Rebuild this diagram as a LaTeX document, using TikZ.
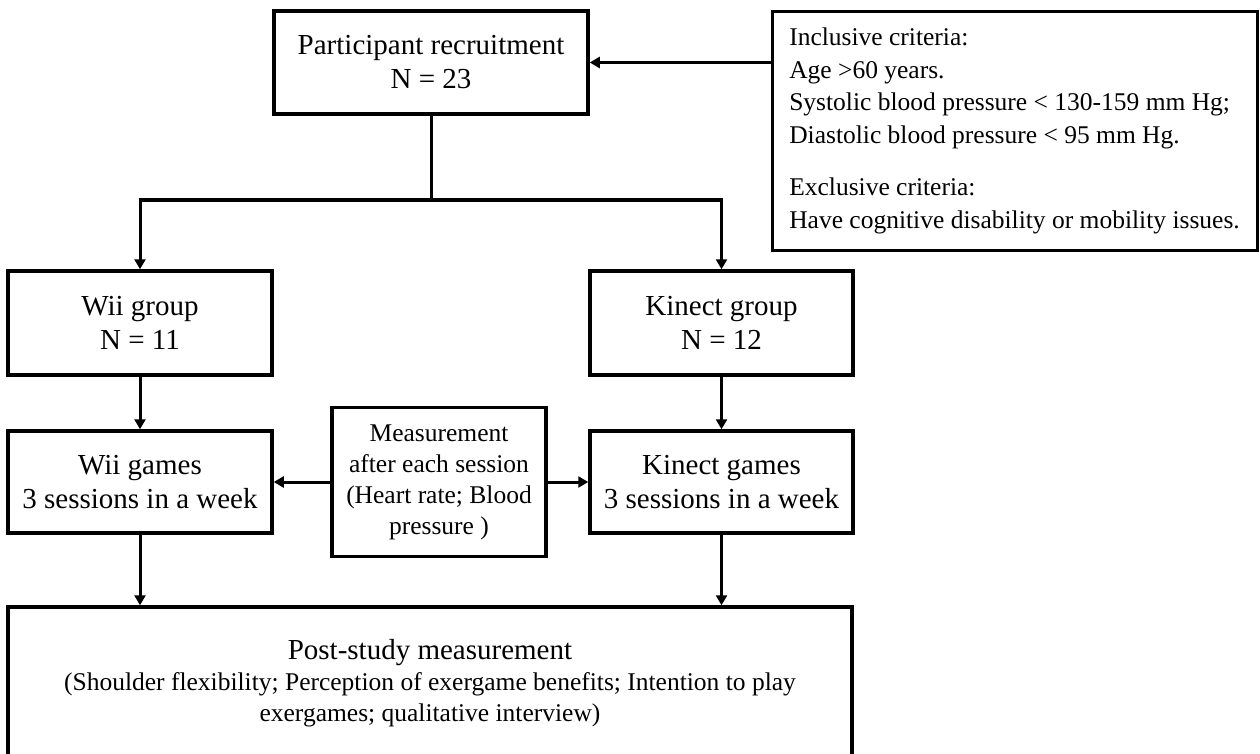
\documentclass[tikz,border=0pt]{standalone}
\usepackage{fontspec}
\setmainfont{Liberation Serif}
\usetikzlibrary{arrows.meta}
\begin{document}
\begin{tikzpicture}[x=1pt,y=-1pt,
  box/.style={draw,line width=3.5pt,align=center,inner sep=0pt,font=\fontsize{29}{34}\selectfont},
  smallbox/.style={box,line width=3pt,font=\fontsize{25.5}{31}\selectfont},
  line/.style={line width=3pt},
  arr/.style={line width=3pt,-{Triangle[length=10pt,width=11pt]}}]
\useasboundingbox (0,0) rectangle (1260,754);
\node [box,minimum width=314pt,minimum height=103pt] (recruit) at (431,62.5) {Participant recruitment\\N = 23};
\node [smallbox,align=left,minimum width=485pt,minimum height=238pt,font=\fontsize{25.5}{32.5}\selectfont] (crit) at (1014.5,131)
  {Inclusive criteria:\\Age >60 years.\\Systolic blood pressure < 130-159 mm Hg;\\Diastolic blood pressure < 95 mm Hg.\\[20pt]Exclusive criteria:\\Have cognitive disability or mobility issues.};
\node [box,minimum width=264pt,minimum height=104pt] (wiigrp) at (140,323) {Wii group\\N = 11};
\node [box,minimum width=263pt,minimum height=104pt] (kingrp) at (721.5,323) {Kinect group\\N = 12};
\node [box,minimum width=264pt,minimum height=102pt] (wiigam) at (140,482) {Wii games\\3 sessions in a week};
\node [box,minimum width=263pt,minimum height=102pt] (kingam) at (721.5,482) {Kinect games\\3 sessions in a week};
\node [smallbox,line width=3.5pt,minimum width=214pt,minimum height=149pt] (meas) at (439,482) {Measurement\\after each session\\(Heart rate; Blood\\pressure )};
\node [smallbox,line width=3.5pt,minimum width=844pt,minimum height=152pt] (post) at (430,683)
  {{\fontsize{29}{31}\selectfont Post-study measurement}\\(Shoulder flexibility; Perception of exergame benefits; Intention to play\\exergames; qualitative interview)};
\coordinate (split) at (431,200);
\draw [arr] (recruit.east -| crit.west) -- (recruit.east);
\draw [line] (recruit.south) -- (split);
\draw [arr] (split) -| (wiigrp.north);
\draw [arr] (split) -| (kingrp.north);
\draw [arr] (wiigrp) -- (wiigam);
\draw [arr] (kingrp) -- (kingam);
\draw [arr] (meas) -- (wiigam);
\draw [arr] (meas) -- (kingam);
\draw [arr] (wiigam.south) -- (wiigam.south |- post.north);
\draw [arr] (kingam.south) -- (kingam.south |- post.north);
\end{tikzpicture}
\end{document}
